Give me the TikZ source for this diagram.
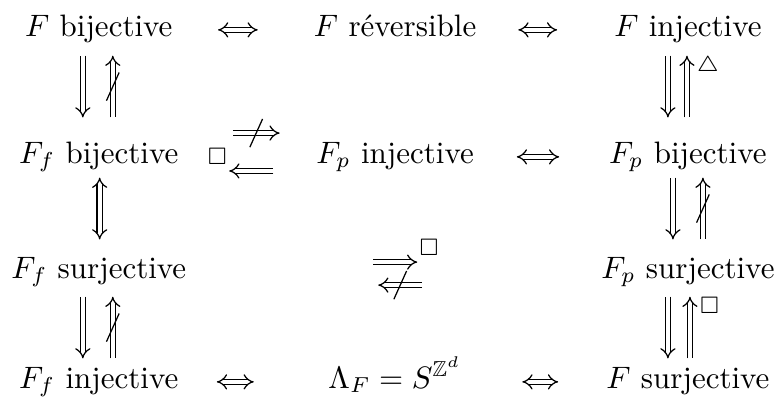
\documentclass[tikz,border=0pt]{standalone}
\usepackage{amsmath}
\usepackage{amssymb}
\usetikzlibrary{calc,arrows.meta,decorations.markings}

\begin{document}
\begin{tikzpicture}[line width=0.4pt,
  st/.style={anchor=base,inner sep=0pt,text height=7pt,text depth=3pt},
  imp/.style={double,double distance=1.3pt,-{Implies[scale=1.35]}},
  iff/.style={double,double distance=1.3pt,{Implies[scale=1.35]}-{Implies[scale=1.35]}},
  nt/.style={postaction={decorate,decoration={markings,
      mark=at position .5 with {\pgftransformresetnontranslations
        \draw[-] (-0.072,-0.16) -- (0.072,0.16);}}}},
  tag/.style={inner sep=0pt,font=\scriptsize}]
  \useasboundingbox (0,0) rectangle (8.81,4.627);
  % --- ligne 1 ---
  \node[st] (fb)  at (1.12,4.218) {$F$ bijective};
  \node[st] (fr)  at (4.48,4.218) {$F$ réversible};
  \node[st] (fi)  at (7.80,4.218) {$F$ injective};
  % --- ligne 2 ---
  \node[st] (ffb) at (1.12,2.778) {$F_f$ bijective};
  \node[st] (fpi) at (4.48,2.778) {$F_p$ injective};
  \node[st] (fpb) at (7.80,2.778) {$F_p$ bijective};
  % --- ligne 3 ---
  \node[st] (ffs) at (1.12,1.474) {$F_f$ surjective};
  \node[st] (fps) at (7.80,1.474) {$F_p$ surjective};
  % --- ligne 4 ---
  \node[st] (ffi) at (1.12,0.227) {$F_f$ injective};
  \node[st] (lam) at (4.48,0.227) {$\Lambda_F = S^{\mathbb{Z}^d}$};
  \node[st] (fs)  at (7.80,0.227) {$F$ surjective};
  % equivalences horizontales
  \draw[iff] ([xshift=5.1mm]fb.east) -- ([xshift=-6.3mm]fr.west);
  \draw[iff] ([xshift=4.7mm]fr.east) -- ([xshift=-6.4mm]fi.west);
  \draw[iff] ([xshift=4.8mm]fpi.east) -- ([xshift=-5.6mm]fpb.west);
  \draw[iff] ([xshift=4.3mm]ffi.east) -- ([xshift=-8.4mm]lam.west);
  \draw[iff] ([xshift=6.8mm]lam.east) -- ([xshift=-5.4mm]fs.west);
  % colonne gauche
  \draw[imp] ([xshift=-1.81mm,yshift=-1.1mm]fb.south) -- ([xshift=-1.81mm,yshift=2.64mm]ffb.north);
  \draw[imp,nt] ([xshift=1.59mm,yshift=2.64mm]ffb.north) -- ([xshift=1.59mm,yshift=-1.1mm]fb.south);
  \draw[iff] ([xshift=0.1mm,yshift=-0.53mm]ffb.south) -- ([xshift=0.1mm,yshift=1.85mm]ffs.north);
  \draw[imp] ([xshift=-1.81mm,yshift=-0.99mm]ffs.south) -- ([xshift=-1.81mm,yshift=0.83mm]ffi.north);
  \draw[imp,nt] ([xshift=1.59mm,yshift=0.83mm]ffi.north) -- ([xshift=1.59mm,yshift=-0.99mm]ffs.south);
  % colonne droite
  \draw[imp] ([xshift=-2.27mm,yshift=-1.1mm]fi.south) -- ([xshift=-2.27mm,yshift=2.64mm]fpb.north);
  \draw[imp] ([xshift=-0.11mm,yshift=2.64mm]fpb.north) -- ([xshift=-0.11mm,yshift=-1.1mm]fi.south)
    node[tag,anchor=north west,xshift=3pt] {$\triangle$};
  \draw[imp] ([xshift=-1.7mm,yshift=-0.53mm]fpb.south) -- ([xshift=-1.7mm,yshift=1.85mm]fps.north);
  \draw[imp,nt] ([xshift=1.7mm,yshift=1.85mm]fps.north) -- ([xshift=1.7mm,yshift=-0.53mm]fpb.south);
  \draw[imp] ([xshift=-2.27mm,yshift=-0.99mm]fps.south) -- ([xshift=-2.27mm,yshift=0.83mm]fs.north);
  \draw[imp] ([xshift=0.23mm,yshift=0.83mm]fs.north) -- ([xshift=0.23mm,yshift=-0.99mm]fps.south)
    node[tag,anchor=north west,xshift=3pt] {$\square$};
  % milieu
  \draw[imp,nt] ([xshift=6.1mm,yshift=2.7mm]ffb.east) -- ([xshift=-4.1mm,yshift=2.7mm]fpi.west);
  \draw[imp] ([xshift=-4.8mm,yshift=-1.6mm]fpi.west) -- ([xshift=5.7mm,yshift=-1.6mm]ffb.east)
    node[tag,anchor=south east,xshift=-0.5pt,yshift=2pt] {$\square$};
  \draw[imp] ([xshift=21.15mm,yshift=1.11mm]ffs.east) -- ([xshift=-20.8mm,yshift=1.11mm]fps.west)
    node[tag,anchor=south west,xshift=0.5pt,yshift=2pt] {$\square$};
  \draw[imp,nt] ([xshift=-20.24mm,yshift=-1.5mm]fps.west) -- ([xshift=21.7mm,yshift=-1.5mm]ffs.east);
\end{tikzpicture}
\end{document}
